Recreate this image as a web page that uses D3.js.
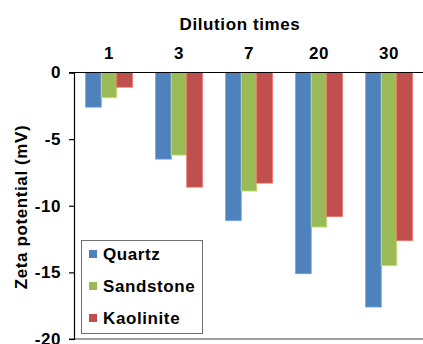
<!DOCTYPE html>
<html>
<head>
<meta charset="utf-8">
<script src="https://cdn.jsdelivr.net/npm/d3@7/dist/d3.min.js"></script>
<style>
  html, body { margin: 0; padding: 0; background: #fff; }
  svg { display: block; }
  text { font-family: Arial, "Liberation Sans", sans-serif; font-weight: bold; fill: #000; }
</style>
</head>
<body>
<svg id="chart" width="423" height="344"></svg>
<script>
// Dilution times (categories) and zeta potential (mV) per mineral
const categories = ["1", "3", "7", "20", "30"];
const quartz    = [-2.6, -6.5, -11.1, -15.1, -17.6];
const sandstone = [-1.9, -6.2, -8.9, -11.6, -14.5];
const kaolinite = [-1.1, -8.6, -8.3, -10.8, -12.6];
const yTicks = [0, -5, -10, -15, -20];

const seriesNames = ["Quartz", "Sandstone", "Kaolinite"];
const seriesValues = [quartz, sandstone, kaolinite];
const colors = ["#4F81BD", "#9BBB59", "#C0504D"];

const svg = d3.select("#chart");
const plot = { left: 74, right: 424, top: 72.5, bottom: 339 };
const fontSize = 17;
const spacing = 0.6;

const x0 = d3.scaleBand().domain(categories).range([plot.left, plot.right]).padding(0);
const x1 = d3.scaleBand().domain(seriesNames).range([0, x0.bandwidth()])
  .paddingInner(0).paddingOuter(0.75);
const y = d3.scaleLinear().domain([-20, 0]).range([plot.bottom, plot.top]);

// bars
const groups = svg.append("g").selectAll("g")
  .data(categories)
  .join("g")
  .attr("transform", d => `translate(${x0(d)},0)`);

groups.selectAll("rect")
  .data((c, i) => seriesNames.map((s, k) => ({ s, k, v: seriesValues[k][i] })))
  .join("rect")
  .attr("x", d => x1(d.s))
  .attr("y", y(0))
  .attr("width", x1.bandwidth())
  .attr("height", d => y(d.v) - y(0))
  .attr("fill", d => colors[d.k])
  .attr("stroke", d => d3.color(colors[d.k]).brighter(0.6))
  .attr("stroke-width", 0.8);

// bottom border of the plot area
svg.append("line")
  .attr("x1", plot.left - 5).attr("x2", 423)
  .attr("y1", y(-20)).attr("y2", y(-20))
  .attr("stroke", "#404040").attr("stroke-width", 1.2);

// value axis on the left
const yAxis = d3.axisLeft(y).tickValues(yTicks).tickSize(5).tickPadding(8)
  .tickFormat(d => d === 0 ? "0" : d3.format("d")(d).replace("−", "-"));
const gy = svg.append("g").attr("transform", `translate(${plot.left},0)`).call(yAxis);
gy.select(".domain").attr("stroke", "#000").attr("stroke-width", 1.2);
gy.selectAll(".tick line").attr("stroke", "#000").attr("stroke-width", 1.2);
gy.selectAll(".tick text")
  .style("font-size", fontSize + "px")
  .style("letter-spacing", spacing + "px")
  .style("font-family", "Arial, 'Liberation Sans', sans-serif")
  .style("font-weight", "bold")
  .attr("fill", "#000");

// category axis along zero, labels on top
const xAxis = d3.axisTop(x0).tickSize(0).tickPadding(14);
const gx = svg.append("g").attr("transform", `translate(0,${y(0)})`).call(xAxis);
gx.select(".domain").remove();
gx.selectAll(".tick text")
  .style("font-size", fontSize + "px")
  .style("letter-spacing", spacing + "px")
  .style("font-family", "Arial, 'Liberation Sans', sans-serif")
  .style("font-weight", "bold")
  .attr("fill", "#000");
svg.append("line")
  .attr("x1", plot.left - 5).attr("x2", 423)
  .attr("y1", y(0)).attr("y2", y(0))
  .attr("stroke", "#000").attr("stroke-width", 1.2);

// titles
svg.append("text")
  .attr("x", 240).attr("y", 30)
  .attr("text-anchor", "middle")
  .style("font-size", fontSize + "px")
  .style("letter-spacing", spacing + "px")
  .text("Dilution times");

svg.append("text")
  .attr("transform", "translate(27,207) rotate(-90)")
  .attr("text-anchor", "middle")
  .style("font-size", fontSize + "px")
  .style("letter-spacing", spacing + "px")
  .text("Zeta potential (mV)");

// legend
const legend = svg.append("g");
legend.append("rect")
  .attr("x", 81.5).attr("y", 240.5).attr("width", 121).attr("height", 93)
  .attr("fill", "#fff").attr("stroke", "#707070").attr("stroke-width", 1);
const items = legend.selectAll("g.item")
  .data(seriesNames)
  .join("g")
  .attr("class", "item")
  .attr("transform", (d, i) => `translate(89,${254 + i * 32})`);
items.append("rect")
  .attr("x", 0).attr("y", -4).attr("width", 8).attr("height", 8)
  .attr("fill", (d, i) => colors[i]);
items.append("text")
  .attr("x", 14).attr("y", 6)
  .style("font-size", fontSize + "px")
  .style("letter-spacing", spacing + "px")
  .text(d => d);
</script>
</body>
</html>
